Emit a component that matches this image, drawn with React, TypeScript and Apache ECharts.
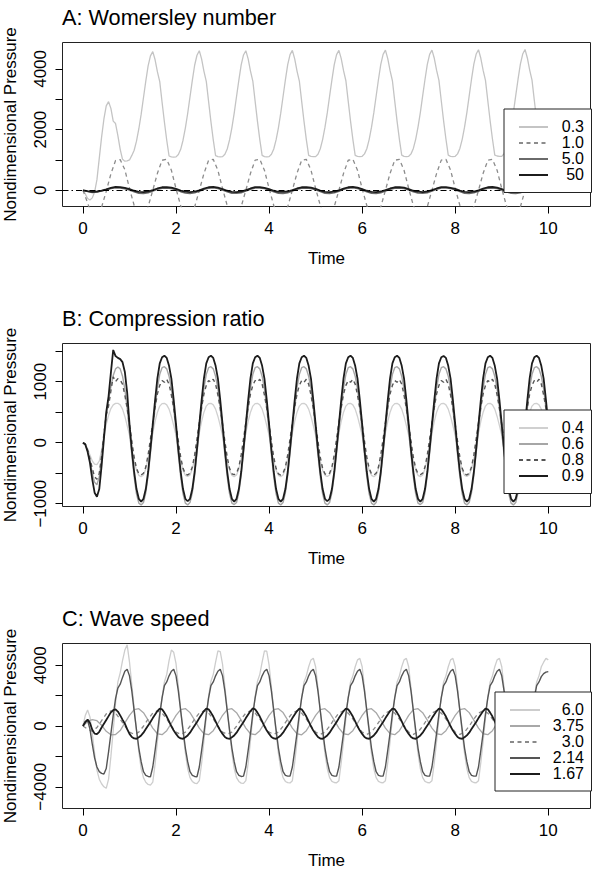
import React, { useEffect, useRef } from 'react';
import * as echarts from 'echarts';

// Sampling grids (time units)
const TIME_FINE: number[] = Array.from({ length: 201 }, (_, i) => Math.round(i * 5) / 100);
const TIME_COARSE: number[] = Array.from({ length: 101 }, (_, i) => i / 10);

const TIME_TICKS = [0, 2, 4, 6, 8, 10];

// ---------- Panel A: Womersley number ----------
const WOMERSLEY_LABELS = ['0.3', '1.0', '5.0', '50'];
const A_Y_TICKS = [0, 1000, 2000, 3000, 4000];
const A_Y_LABELS = [0, 2000, 4000];

const womersley03 = [
  0, -120, -270, -320, -250, -60, 350, 1050, 1750, 2350, 2780, 2920, 2700, 2280, 2200, 1800, 1350, 1020, 960, 970,
  1000, 1150, 1320, 1620, 2020, 2500, 3050, 3600, 4100, 4430, 4570, 4300, 3900, 3580, 2900, 2250, 1650, 1130, 1100, 1090,
  1100, 1180, 1350, 1650, 2050, 2530, 3080, 3620, 4120, 4450, 4600, 4320, 3920, 3590, 2920, 2260, 1660, 1140, 1110, 1100,
  1110, 1190, 1360, 1660, 2060, 2540, 3090, 3630, 4130, 4460, 4600, 4330, 3930, 3600, 2930, 2270, 1670, 1150, 1110, 1100,
  1110, 1190, 1360, 1660, 2060, 2540, 3090, 3640, 4140, 4470, 4610, 4330, 3930, 3600, 2930, 2270, 1670, 1150, 1120, 1110,
  1110, 1190, 1370, 1670, 2070, 2550, 3100, 3640, 4140, 4470, 4610, 4340, 3940, 3610, 2940, 2280, 1680, 1150, 1120, 1110,
  1120, 1200, 1370, 1670, 2070, 2550, 3100, 3650, 4150, 4480, 4620, 4340, 3940, 3610, 2940, 2280, 1680, 1160, 1120, 1110,
  1120, 1200, 1380, 1680, 2080, 2560, 3110, 3650, 4150, 4480, 4620, 4350, 3950, 3620, 2950, 2290, 1690, 1160, 1120, 1110,
  1120, 1200, 1380, 1680, 2080, 2560, 3110, 3660, 4160, 4490, 4630, 4350, 3950, 3620, 2950, 2290, 1690, 1160, 1130, 1120,
  1120, 1210, 1380, 1690, 2090, 2570, 3120, 3660, 4160, 4490, 4640, 4360, 3960, 3630, 2960, 2300, 1700, 1170, 1130, 1120,
  1120,
];

const womersley10 = [
  0, -420, -850, -930, -560, -30, 540, 980, 1010, 680,
  60, -500, -880, -930, -540, 0, 560, 990, 1020, 660,
  50, -510, -880, -935, -545, -5, 555, 990, 1020, 655,
  55, -505, -885, -930, -540, 0, 560, 995, 1025, 660,
  60, -500, -880, -930, -540, 5, 565, 990, 1020, 665,
  60, -500, -880, -930, -540, 0, 560, 990, 1020, 660,
  55, -505, -880, -935, -545, 0, 560, 990, 1020, 660,
  60, -500, -880, -930, -540, 5, 560, 995, 1020, 665,
  60, -500, -885, -930, -540, 0, 560, 990, 1020, 660,
  55, -505, -880, -930, -545, 0, 555, 990, 1015, 660,
  60,
];

const womersley5 = [
  0, -40, -70, -60, -20, 20, 60, 80, 75, 50,
  10, -50, -95, -105, -80, -25, 35, 70, 75, 55,
  15, -45, -90, -105, -85, -30, 30, 70, 80, 60,
  10, -50, -95, -100, -80, -25, 35, 75, 75, 55,
  10, -50, -95, -105, -80, -25, 35, 70, 75, 55,
  15, -45, -95, -105, -85, -30, 30, 70, 80, 60,
  10, -50, -95, -105, -80, -25, 35, 70, 75, 55,
  10, -50, -90, -100, -80, -25, 35, 75, 80, 55,
  15, -45, -95, -105, -80, -30, 30, 70, 75, 55,
  10, -50, -95, -105, -80, -25, 35, 70, 75, 55,
  10,
];

const womersley50 = [
  0, -30, -50, -40, -10, 30, 80, 110, 105, 80,
  40, -15, -50, -60, -40, 5, 60, 100, 105, 85,
  45, -10, -45, -60, -45, 0, 55, 100, 110, 85,
  40, -15, -50, -60, -40, 5, 60, 105, 105, 80,
  40, -15, -50, -55, -40, 5, 60, 100, 105, 85,
  45, -10, -50, -60, -45, 0, 55, 100, 110, 85,
  40, -15, -50, -60, -40, 5, 60, 100, 105, 85,
  40, -15, -45, -60, -40, 5, 60, 105, 105, 80,
  45, -10, -50, -60, -45, 0, 55, 100, 110, 85,
  40, -15, -50, -60, -40, 5, 60, 100, 105, 85,
  40,
];

// ---------- Panel B: Compression ratio ----------
const COMPRESSION_LABELS = ['0.4', '0.6', '0.8', '0.9'];
const B_Y_TICKS = [-1000, -500, 0, 500, 1000, 1500];
const B_Y_LABELS = [-1000, 0, 1000];

const compression04 = [
  0, -20, -100, -200, -300, -350, -360, -300, -120, 100, 300, 450, 560, 620, 645, 646, 620, 550, 430, 280,
  120, -100, -300, -450, -535, -557, -530, -430, -260, -50, 160, 350, 500, 600, 640, 646, 620, 550, 430, 280,
  120, -100, -300, -450, -535, -555, -530, -430, -260, -50, 160, 350, 500, 600, 640, 646, 620, 550, 430, 280,
  120, -100, -300, -450, -535, -557, -530, -430, -260, -50, 160, 350, 500, 600, 640, 646, 620, 550, 430, 280,
  120, -100, -300, -450, -535, -557, -530, -430, -260, -50, 160, 350, 500, 600, 640, 646, 620, 550, 430, 280,
  120, -100, -300, -450, -535, -555, -530, -430, -260, -50, 160, 350, 500, 600, 640, 646, 620, 550, 430, 280,
  120, -100, -300, -450, -535, -557, -530, -430, -260, -50, 160, 350, 500, 600, 640, 646, 620, 550, 430, 280,
  120, -100, -300, -450, -535, -557, -530, -430, -260, -50, 160, 350, 500, 600, 640, 646, 620, 550, 430, 280,
  120, -100, -300, -450, -535, -555, -530, -430, -260, -50, 160, 350, 500, 600, 640, 646, 620, 550, 430, 280,
  120, -100, -300, -450, -535, -557, -530, -430, -260, -50, 160, 350, 500, 600, 640, 646, 620, 550, 430, 280,
  120,
];

const compression06 = [
  0, -30, -140, -300, -500, -650, -690, -560, -250, 130, 450, 700, 920, 1100, 1210, 1240, 1210, 1090, 880, 560,
  180, -200, -560, -840, -990, -1020, -980, -820, -540, -170, 200, 570, 900, 1120, 1230, 1246, 1210, 1090, 880, 560,
  180, -200, -560, -840, -990, -1020, -980, -820, -540, -170, 200, 570, 900, 1120, 1230, 1246, 1210, 1090, 880, 560,
  180, -200, -560, -840, -990, -1015, -980, -820, -540, -170, 200, 570, 900, 1120, 1230, 1246, 1210, 1090, 880, 560,
  180, -200, -560, -840, -990, -1020, -980, -820, -540, -170, 200, 570, 900, 1120, 1230, 1246, 1210, 1090, 880, 560,
  180, -200, -560, -840, -990, -1020, -980, -820, -540, -170, 200, 570, 900, 1120, 1230, 1246, 1210, 1090, 880, 560,
  180, -200, -560, -840, -990, -1020, -980, -820, -540, -170, 200, 570, 900, 1120, 1230, 1246, 1210, 1090, 880, 560,
  180, -200, -560, -840, -990, -1015, -980, -820, -540, -170, 200, 570, 900, 1120, 1230, 1246, 1210, 1090, 880, 560,
  180, -200, -560, -840, -990, -1020, -980, -820, -540, -170, 200, 570, 900, 1120, 1230, 1246, 1210, 1090, 880, 560,
  180, -200, -560, -840, -990, -1020, -980, -820, -540, -170, 200, 570, 900, 1120, 1230, 1246, 1210, 1090, 880, 560,
  180,
];

const compression08 = [
  0, -20, -120, -260, -420, -560, -600, -500, -220, 150, 450, 600, 850, 1080, 1000, 1050, 1030, 960, 780, 560,
  300, 20, -240, -420, -510, -530, -500, -400, -200, 60, 330, 580, 800, 940, 1020, 990, 1040, 960, 780, 560,
  300, 20, -240, -420, -510, -530, -500, -400, -200, 60, 330, 580, 800, 940, 1020, 990, 1040, 960, 780, 560,
  300, 20, -240, -420, -510, -525, -500, -400, -200, 60, 330, 580, 800, 940, 1020, 995, 1040, 960, 780, 560,
  300, 20, -240, -420, -510, -530, -500, -400, -200, 60, 330, 580, 800, 940, 1020, 990, 1040, 960, 780, 560,
  300, 20, -240, -420, -510, -530, -500, -400, -200, 60, 330, 580, 800, 940, 1020, 990, 1040, 960, 780, 560,
  300, 20, -240, -420, -510, -530, -500, -400, -200, 60, 330, 580, 800, 940, 1020, 990, 1035, 960, 780, 560,
  300, 20, -240, -420, -510, -525, -500, -400, -200, 60, 330, 580, 800, 940, 1020, 990, 1040, 960, 780, 560,
  300, 20, -240, -420, -510, -530, -500, -400, -200, 60, 330, 580, 800, 940, 1020, 990, 1040, 960, 780, 560,
  300, 20, -240, -420, -510, -530, -500, -400, -200, 60, 330, 580, 800, 940, 1020, 990, 1040, 960, 780, 560,
  300,
];

const compression09 = [
  0, -30, -150, -330, -600, -820, -885, -760, -380, 60, 500, 760, 1150, 1520, 1420, 1390, 1370, 1320, 1160, 820,
  300, -120, -480, -760, -920, -965, -920, -760, -480, -100, 300, 700, 1060, 1300, 1400, 1425, 1390, 1260, 1050, 700,
  300, -120, -480, -760, -920, -960, -920, -760, -480, -100, 300, 700, 1060, 1300, 1400, 1425, 1390, 1260, 1050, 700,
  300, -120, -480, -760, -920, -965, -920, -760, -480, -100, 300, 700, 1060, 1300, 1400, 1425, 1390, 1260, 1050, 700,
  300, -120, -480, -760, -920, -965, -920, -760, -480, -100, 300, 700, 1060, 1300, 1400, 1425, 1390, 1260, 1050, 700,
  300, -120, -480, -760, -920, -960, -920, -760, -480, -100, 300, 700, 1060, 1300, 1400, 1425, 1390, 1260, 1050, 700,
  300, -120, -480, -760, -920, -965, -920, -760, -480, -100, 300, 700, 1060, 1300, 1400, 1425, 1390, 1260, 1050, 700,
  300, -120, -480, -760, -920, -965, -920, -760, -480, -100, 300, 700, 1060, 1300, 1400, 1420, 1390, 1260, 1050, 700,
  300, -120, -480, -760, -920, -965, -920, -760, -480, -100, 300, 700, 1060, 1300, 1400, 1425, 1390, 1260, 1050, 700,
  300, -120, -480, -760, -920, -965, -920, -760, -480, -100, 300, 700, 1060, 1300, 1400, 1425, 1390, 1260, 1050, 700,
  300,
];

// ---------- Panel C: Wave speed ----------
const WAVE_LABELS = ['6.0', '3.75', '3.0', '2.14', '1.67'];
const C_Y_TICKS = [-4000, -2000, 0, 2000, 4000];
const C_Y_LABELS = [-4000, 0, 4000];

const wave60 = [
  0, 700, 1050, 600, -500, -1800, -2900, -3500, -3800, -4000, -4100, -3500, -2000, -300, 1500, 2900, 3500, 4300, 5000, 5340,
  4200, 2700, 1200, -300, -1700, -2800, -3400, -3700, -3850, -3890, -3700, -2500, -1000, 500, 1900, 2900, 3400, 4300, 5000, 4850,
  4100, 2600, 1100, -400, -1750, -2800, -3400, -3650, -3760, -3790, -3600, -2450, -950, 600, 1950, 2950, 3400, 4200, 4950, 4900,
  4050, 2600, 1100, -400, -1750, -2800, -3400, -3650, -3760, -3780, -3600, -2450, -950, 600, 1950, 2950, 3400, 4200, 4950, 4920,
  4000, 2550, 1050, -450, -1800, -2800, -3400, -3650, -3730, -3750, -3600, -2400, -1000, 500, 1900, 2900, 3300, 3900, 4350, 4460,
  3900, 2500, 1000, -500, -1800, -2800, -3400, -3650, -3720, -3740, -3600, -2400, -1000, 500, 1900, 2900, 3300, 3900, 4350, 4450,
  3900, 2500, 1000, -500, -1800, -2800, -3400, -3650, -3720, -3740, -3600, -2400, -1000, 500, 1900, 2900, 3300, 3900, 4350, 4450,
  3900, 2500, 1000, -500, -1800, -2800, -3400, -3650, -3720, -3740, -3600, -2400, -1000, 500, 1900, 2900, 3300, 3900, 4350, 4450,
  3900, 2500, 1000, -500, -1800, -2800, -3400, -3650, -3720, -3740, -3600, -2400, -1000, 500, 1900, 2900, 3300, 3900, 4350, 4450,
  3900, 2500, 1000, -500, -1800, -2800, -3400, -3650, -3720, -3740, -3600, -2400, -1000, 500, 1900, 2900, 3300, 3900, 4200, 4450,
  4350,
];

const wave375 = [
  0, 300, 420, 350, 50, -350, -580, -560, -300, 200,
  700, 1080, 1140, 880, 390, -140, -510, -575, -310, 180,
  700, 1080, 1145, 880, 390, -140, -510, -575, -310, 180,
  705, 1080, 1140, 880, 390, -135, -510, -575, -310, 180,
  700, 1080, 1140, 885, 390, -140, -510, -580, -310, 180,
  700, 1080, 1140, 880, 390, -140, -510, -575, -310, 180,
  700, 1085, 1140, 880, 390, -140, -505, -575, -310, 180,
  700, 1080, 1140, 880, 390, -140, -510, -575, -310, 180,
  700, 1080, 1145, 880, 385, -140, -510, -575, -310, 180,
  700, 1080, 1140, 880, 390, -140, -510, -575, -310, 180,
  700,
];

const wave30 = [
  0, -200, -350, -100, 350, 800, 1000, 850, 450, 0,
  -400, -550, -400, -15, 460, 850, 1000, 850, 460, -15,
  -400, -550, -400, -15, 460, 850, 1000, 850, 460, -15,
  -400, -545, -400, -15, 460, 850, 1000, 855, 460, -15,
  -400, -550, -400, -15, 460, 850, 1000, 850, 460, -15,
  -405, -550, -400, -15, 460, 850, 1005, 850, 460, -15,
  -400, -550, -400, -15, 460, 850, 1000, 850, 460, -15,
  -400, -550, -395, -15, 460, 850, 1000, 850, 460, -15,
  -400, -550, -400, -15, 460, 850, 1000, 850, 460, -15,
  -400, -550, -400, -15, 460, 850, 1000, 850, 460, -15,
  -400,
];

const wave214 = [
  0, 300, 350, -200, -1200, -2100, -2700, -3000, -3120, -3160, -2800, -1700, -500, 700, 1800, 2500, 2750, 3200, 3600, 3730,
  3300, 2300, 1000, -250, -1450, -2350, -3010, -3250, -3320, -3340, -2700, -1600, -450, 800, 1850, 2650, 2900, 3300, 3600, 3730,
  3300, 2300, 1000, -250, -1450, -2350, -3010, -3250, -3320, -3340, -2700, -1600, -450, 800, 1850, 2650, 2900, 3300, 3600, 3730,
  3300, 2300, 1000, -250, -1450, -2350, -3010, -3250, -3320, -3300, -2700, -1600, -450, 800, 1850, 2650, 2900, 3300, 3600, 3730,
  3300, 2300, 1000, -250, -1450, -2350, -3010, -3250, -3300, -3300, -2700, -1600, -450, 800, 1850, 2650, 2900, 3300, 3600, 3730,
  3300, 2300, 1000, -250, -1450, -2350, -3010, -3250, -3300, -3300, -2700, -1600, -450, 800, 1850, 2650, 2900, 3300, 3600, 3730,
  3300, 2300, 1000, -250, -1450, -2350, -3010, -3250, -3300, -3300, -2700, -1600, -450, 800, 1850, 2650, 2900, 3300, 3600, 3730,
  3300, 2300, 1000, -250, -1450, -2350, -3010, -3250, -3300, -3300, -2700, -1600, -450, 800, 1850, 2650, 2900, 3300, 3600, 3730,
  3300, 2300, 1000, -250, -1450, -2350, -3010, -3250, -3300, -3300, -2700, -1600, -450, 800, 1850, 2650, 2900, 3300, 3600, 3730,
  3300, 2300, 1000, -250, -1450, -2350, -3010, -3250, -3300, -3300, -2700, -1600, -450, 800, 1850, 2650, 2900, 3250, 3450, 3550,
  3580,
];

const wave167 = [
  0, 250, 420, 200, -250, -500, -540, -380, -100, 150, 400, 650, 900, 1050, 1100, 950, 700, 420, 150, -200,
  -520, -720, -820, -840, -740, -620, -440, -200, 40, 260, 520, 760, 980, 1150, 1100, 880, 620, 300, -20, -300,
  -520, -720, -820, -840, -740, -620, -440, -200, 40, 260, 520, 760, 980, 1150, 1100, 880, 620, 300, -20, -300,
  -520, -720, -820, -845, -740, -620, -440, -200, 40, 260, 520, 760, 980, 1155, 1100, 880, 620, 300, -20, -300,
  -520, -720, -820, -840, -740, -620, -440, -200, 40, 260, 520, 760, 980, 1150, 1100, 880, 620, 300, -20, -300,
  -520, -720, -825, -840, -740, -620, -440, -200, 40, 260, 520, 760, 980, 1150, 1100, 880, 620, 300, -20, -300,
  -520, -720, -820, -840, -740, -620, -440, -200, 40, 260, 520, 760, 980, 1150, 1105, 880, 620, 300, -20, -300,
  -520, -720, -820, -840, -740, -620, -440, -200, 40, 260, 520, 760, 980, 1150, 1100, 880, 620, 300, -20, -300,
  -520, -720, -820, -840, -745, -620, -440, -200, 40, 260, 520, 760, 980, 1150, 1100, 880, 620, 300, -20, -300,
  -520, -720, -820, -840, -740, -620, -440, -200, 40, 260, 520, 760, 980, 1150, 1100, 880, 620, 300, -20, -300,
  -520,
];

const FONT = "'Liberation Sans', Arial, Helvetica, sans-serif";
const INK = '#000';

const pairs = (times: number[], values: number[]) => values.map((v, i) => [times[i], v]);
const numLabel = (v: number) => (v < 0 ? '\u2212' + Math.abs(v) : String(v));

type LineDef = {
  name: string;
  times: number[];
  values: number[];
  color: string;
  width: number;
  dashed?: boolean;
};

type PanelDef = {
  title: string;
  top: number;
  height: number;
  yMin: number;
  yMax: number;
  yTicks: number[];
  yLabels: number[];
  lines: LineDef[];
  legend: { left: number; top: number; padding: number[]; iconWidth: number; textWidth: number; row: number };
  zeroLine?: boolean;
};

const PANELS: PanelDef[] = [
  {
    title: 'A: Womersley number',
    top: 42.5,
    height: 164,
    yMin: -534,
    yMax: 4870,
    yTicks: A_Y_TICKS,
    yLabels: A_Y_LABELS,
    zeroLine: true,
    lines: [
      { name: WOMERSLEY_LABELS[0], times: TIME_FINE, values: womersley03, color: '#c4c4c4', width: 1.3 },
      { name: WOMERSLEY_LABELS[1], times: TIME_COARSE, values: womersley10, color: '#8c8c8c', width: 1.3, dashed: true },
      { name: WOMERSLEY_LABELS[2], times: TIME_COARSE, values: womersley5, color: '#6a6a6a', width: 1.5 },
      { name: WOMERSLEY_LABELS[3], times: TIME_COARSE, values: womersley50, color: '#1c1c1c', width: 1.8 },
    ],
    legend: { left: 504, top: 109, padding: [10, 7.5, 9.5, 14], iconWidth: 29, textWidth: 31, row: 19.3 },
  },
  {
    title: 'B: Compression ratio',
    top: 343.5,
    height: 163,
    yMin: -1046,
    yMax: 1626,
    yTicks: B_Y_TICKS,
    yLabels: B_Y_LABELS,
    lines: [
      { name: COMPRESSION_LABELS[0], times: TIME_FINE, values: compression04, color: '#d0d0d0', width: 1.3 },
      { name: COMPRESSION_LABELS[1], times: TIME_FINE, values: compression06, color: '#a6a6a6', width: 1.4 },
      { name: COMPRESSION_LABELS[2], times: TIME_FINE, values: compression08, color: '#555555', width: 1.4, dashed: true },
      { name: COMPRESSION_LABELS[3], times: TIME_FINE, values: compression09, color: '#1c1c1c', width: 1.8 },
    ],
    legend: { left: 504, top: 410, padding: [10, 7.5, 9.5, 14], iconWidth: 29, textWidth: 31, row: 19.3 },
  },
  {
    title: 'C: Wave speed',
    top: 643.5,
    height: 165,
    yMin: -5430,
    yMax: 5430,
    yTicks: C_Y_TICKS,
    yLabels: C_Y_LABELS,
    lines: [
      { name: WAVE_LABELS[0], times: TIME_FINE, values: wave60, color: '#cdcdcd', width: 1.3 },
      { name: WAVE_LABELS[1], times: TIME_COARSE, values: wave375, color: '#a8a8a8', width: 1.3 },
      { name: WAVE_LABELS[2], times: TIME_COARSE, values: wave30, color: '#8a8a8a', width: 1.3, dashed: true },
      { name: WAVE_LABELS[3], times: TIME_FINE, values: wave214, color: '#555555', width: 1.4 },
      { name: WAVE_LABELS[4], times: TIME_FINE, values: wave167, color: '#1c1c1c', width: 1.8 },
    ],
    legend: { left: 495, top: 692, padding: [10, 7.5, 9, 14], iconWidth: 30, textWidth: 39, row: 19.4 },
  },
];

function buildOption() {
  const grid: any[] = [];
  const xAxis: any[] = [];
  const yAxis: any[] = [];
  const series: any[] = [];
  const title: any[] = [];
  const legend: any[] = [];

  PANELS.forEach((p, i) => {
    grid.push({
      left: 62.5,
      top: p.top,
      width: 528,
      height: p.height,
      show: true,
      borderColor: '#222',
      borderWidth: 1,
      backgroundColor: 'rgba(0,0,0,0)',
      containLabel: false,
      outerBoundsMode: 'none',
    });
    xAxis.push({
      type: 'value',
      gridIndex: i,
      position: 'bottom',
      min: -0.44,
      max: 10.907,
      axisLine: { show: false, onZero: false },
      axisTick: { show: true, length: 7, customValues: TIME_TICKS, lineStyle: { color: INK, width: 1 } },
      axisLabel: { customValues: TIME_TICKS, margin: 13, fontSize: 17, color: INK, fontFamily: FONT, formatter: numLabel },
      splitLine: { show: false },
      name: 'Time',
      nameLocation: 'middle',
      nameGap: 43,
      nameTextStyle: { fontSize: 17, color: INK, fontFamily: FONT },
    });
    yAxis.push({
      type: 'value',
      gridIndex: i,
      position: 'left',
      min: p.yMin,
      max: p.yMax,
      axisLine: { show: false, onZero: false },
      axisTick: { show: true, length: 7, customValues: p.yTicks, lineStyle: { color: INK, width: 1 } },
      axisLabel: {
        customValues: p.yLabels,
        rotate: 90,
        margin: 14,
        fontSize: 17,
        color: INK,
        fontFamily: FONT,
        formatter: numLabel,
      },
      splitLine: { show: false },
      name: 'Nondimensional Pressure',
      nameLocation: 'middle',
      nameGap: 44,
      nameTextStyle: { fontSize: 17, color: INK, fontFamily: FONT },
    });
    title.push({
      text: p.title,
      left: 62,
      top: p.top - 36,
      padding: 0,
      textStyle: { fontSize: 21.7, fontWeight: 'normal', color: INK, fontFamily: FONT },
    });
    p.lines.forEach((l, j) => {
      const s: any = {
        type: 'line',
        name: l.name,
        xAxisIndex: i,
        yAxisIndex: i,
        data: pairs(l.times, l.values),
        symbol: 'none',
        showSymbol: false,
        silent: true,
        clip: true,
        lineStyle: { color: l.color, width: l.width, type: l.dashed ? [4, 3.5] : 'solid' },
        itemStyle: { color: l.color },
        emphasis: { disabled: true },
      };
      if (p.zeroLine && j === p.lines.length - 1) {
        s.markLine = {
          silent: true,
          symbol: ['none', 'none'],
          label: { show: false },
          lineStyle: { color: INK, width: 1, type: [6, 3, 1.5, 3] },
          emphasis: { disabled: true },
          data: [{ yAxis: 0 }],
        };
      }
      series.push(s);
    });
    const lg = p.legend;
    legend.push({
      z: 20,
      orient: 'vertical',
      left: lg.left,
      top: lg.top,
      padding: lg.padding,
      itemWidth: lg.iconWidth,
      itemHeight: lg.row,
      itemGap: 0,
      selectedMode: false,
      backgroundColor: '#fff',
      borderColor: '#222',
      borderWidth: 1,
      borderRadius: 0,
      itemStyle: { opacity: 0 },
      textStyle: {
        fontSize: 16,
        color: INK,
        fontFamily: FONT,
        rich: { v: { width: lg.textWidth, align: 'right', fontSize: 16, lineHeight: lg.row, color: INK, fontFamily: FONT } },
      },
      formatter: (n: string) => `{v|${n}}`,
      data: p.lines.map((l) => l.name),
    });
  });

  return {
    animation: false,
    backgroundColor: '#fff',
    textStyle: { fontFamily: FONT },
    title,
    legend,
    grid,
    xAxis,
    yAxis,
    series,
  };
}

export default function App() {
  const ref = useRef<HTMLDivElement>(null);
  useEffect(() => {
    if (!ref.current) return;
    const chart = echarts.init(ref.current, undefined, { renderer: 'svg' });
    chart.setOption(buildOption() as any);
    return () => chart.dispose();
  }, []);
  return <div ref={ref} style={{ position: 'fixed', left: 0, top: 0, width: 595, height: 886 }} />;
}
